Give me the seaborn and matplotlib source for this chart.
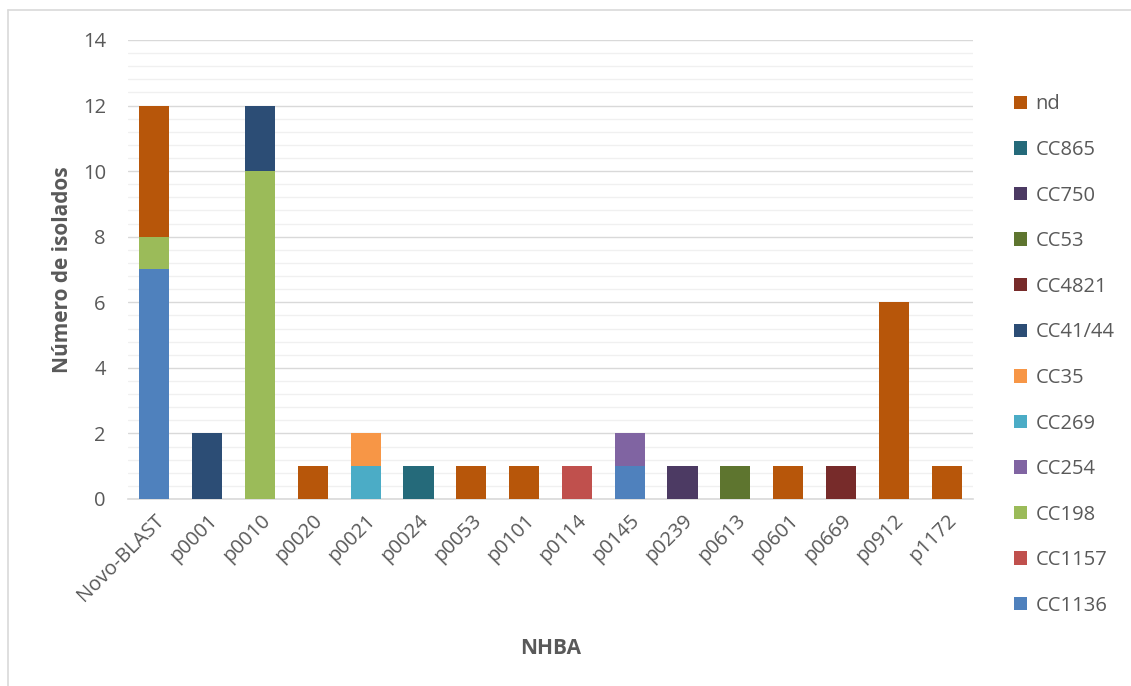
import numpy as np
import pandas as pd
import matplotlib
matplotlib.use("Agg")
import matplotlib.pyplot as plt
from matplotlib.patches import Patch
from matplotlib.lines import Line2D
from matplotlib.ticker import MultipleLocator
import seaborn as sns

# NHBA peptide groups on the x axis
categories = ["Novo-BLAST", "p0001", "p0010", "p0020", "p0021", "p0024", "p0053",
              "p0101", "p0114", "p0145", "p0239", "p0613", "p0601", "p0669",
              "p0912", "p1172"]

# Clonal complexes, listed top of the stack first
complexes = ["nd", "CC865", "CC750", "CC53", "CC4821", "CC41/44", "CC35",
             "CC269", "CC254", "CC198", "CC1157", "CC1136"]

# Number of isolates per clonal complex, one value per category
nd       = [4, 0, 0, 1, 0, 0, 1, 1, 0, 0, 0, 0, 1, 0, 6, 1]
cc865    = [0, 0, 0, 0, 0, 1, 0, 0, 0, 0, 0, 0, 0, 0, 0, 0]
cc750    = [0, 0, 0, 0, 0, 0, 0, 0, 0, 0, 1, 0, 0, 0, 0, 0]
cc53     = [0, 0, 0, 0, 0, 0, 0, 0, 0, 0, 0, 1, 0, 0, 0, 0]
cc4821   = [0, 0, 0, 0, 0, 0, 0, 0, 0, 0, 0, 0, 0, 1, 0, 0]
cc41_44  = [0, 2, 2, 0, 0, 0, 0, 0, 0, 0, 0, 0, 0, 0, 0, 0]
cc35     = [0, 0, 0, 0, 1, 0, 0, 0, 0, 0, 0, 0, 0, 0, 0, 0]
cc269    = [0, 0, 0, 0, 1, 0, 0, 0, 0, 0, 0, 0, 0, 0, 0, 0]
cc254    = [0, 0, 0, 0, 0, 0, 0, 0, 0, 1, 0, 0, 0, 0, 0, 0]
cc198    = [1, 0, 10, 0, 0, 0, 0, 0, 0, 0, 0, 0, 0, 0, 0, 0]
cc1157   = [0, 0, 0, 0, 0, 0, 0, 0, 1, 0, 0, 0, 0, 0, 0, 0]
cc1136   = [7, 0, 0, 0, 0, 0, 0, 0, 0, 1, 0, 0, 0, 0, 0, 0]

series = [nd, cc865, cc750, cc53, cc4821, cc41_44, cc35, cc269, cc254,
          cc198, cc1157, cc1136]

colors = {
    "nd": "#B7560A", "CC865": "#256A7A", "CC750": "#4C3A63", "CC53": "#5E752F",
    "CC4821": "#772B2A", "CC41/44": "#2C4D75", "CC35": "#F79646",
    "CC269": "#4BACC6", "CC254": "#8064A2", "CC198": "#9BBB59",
    "CC1157": "#C0504D", "CC1136": "#4F81BD",
}

rows = []
for cat_i, cat in enumerate(categories):
    for name, vals in zip(complexes, series):
        rows.append({"NHBA": cat, "complex": name, "n": vals[cat_i]})
df = pd.DataFrame(rows)

sns.set_theme(style="white")
plt.rcParams["font.family"] = ["Open Sans", "DejaVu Sans"]
text_color = "#595959"

fig = plt.figure(figsize=(11.31, 6.86), dpi=100)
ax = fig.add_axes([0.1132, 0.2726, 0.7471, 0.6691])

# Stacked bars: seaborn stacks the last hue level at the bottom
sns.histplot(data=df, x="NHBA", hue="complex", weights="n", hue_order=complexes,
             multiple="stack", discrete=True, shrink=0.57, palette=colors,
             alpha=1, linewidth=0, legend=False, ax=ax, zorder=3)

ax.set_xlim(-0.5, len(categories) - 0.5)
ax.set_ylim(0, 14)
ax.yaxis.set_major_locator(MultipleLocator(2))
ax.yaxis.set_minor_locator(MultipleLocator(0.4))
ax.grid(axis="y", which="major", color="#D9D9D9", linewidth=1.0, zorder=0)
ax.grid(axis="y", which="minor", color="#F0F0F0", linewidth=1.0, zorder=0)
ax.grid(axis="x", visible=False)
ax.set_axisbelow(True)
for side in ["top", "right", "left"]:
    ax.spines[side].set_visible(False)
ax.spines["bottom"].set_color("#D9D9D9")
ax.spines["bottom"].set_linewidth(1.2)

ax.set_xticks(range(len(categories)))
ax.set_xticklabels(categories, rotation=45, ha="right", rotation_mode="anchor",
                   fontsize=14.5, color=text_color)
ax.tick_params(axis="x", length=0, pad=8)
ax.tick_params(axis="y", length=0, pad=16, labelsize=14.5, labelcolor=text_color)

ax.set_xlabel("NHBA", fontsize=15, fontweight="bold", color=text_color, labelpad=24)
ax.set_ylabel("Número de isolados", fontsize=15, fontweight="bold",
              color=text_color, labelpad=7)

handles = [Patch(facecolor=colors[c], edgecolor="none") for c in complexes]
leg = fig.legend(handles, complexes, loc="upper left", bbox_to_anchor=(0.889, 0.874),
                 frameon=False, fontsize=14.5, labelcolor=text_color,
                 handlelength=0.65, handleheight=0.65, handletextpad=0.45,
                 labelspacing=1.27, borderaxespad=0)

# Chart area frame (left and top edges)
fig.add_artist(Line2D([0.0068, 0.0068], [0, 0.985], color="#D9D9D9", lw=1.2,
                      transform=fig.transFigure))
fig.add_artist(Line2D([0.0068, 1.0], [0.985, 0.985], color="#D9D9D9", lw=1.2,
                      transform=fig.transFigure))

fig.savefig("out.png", dpi=100, facecolor="white")
